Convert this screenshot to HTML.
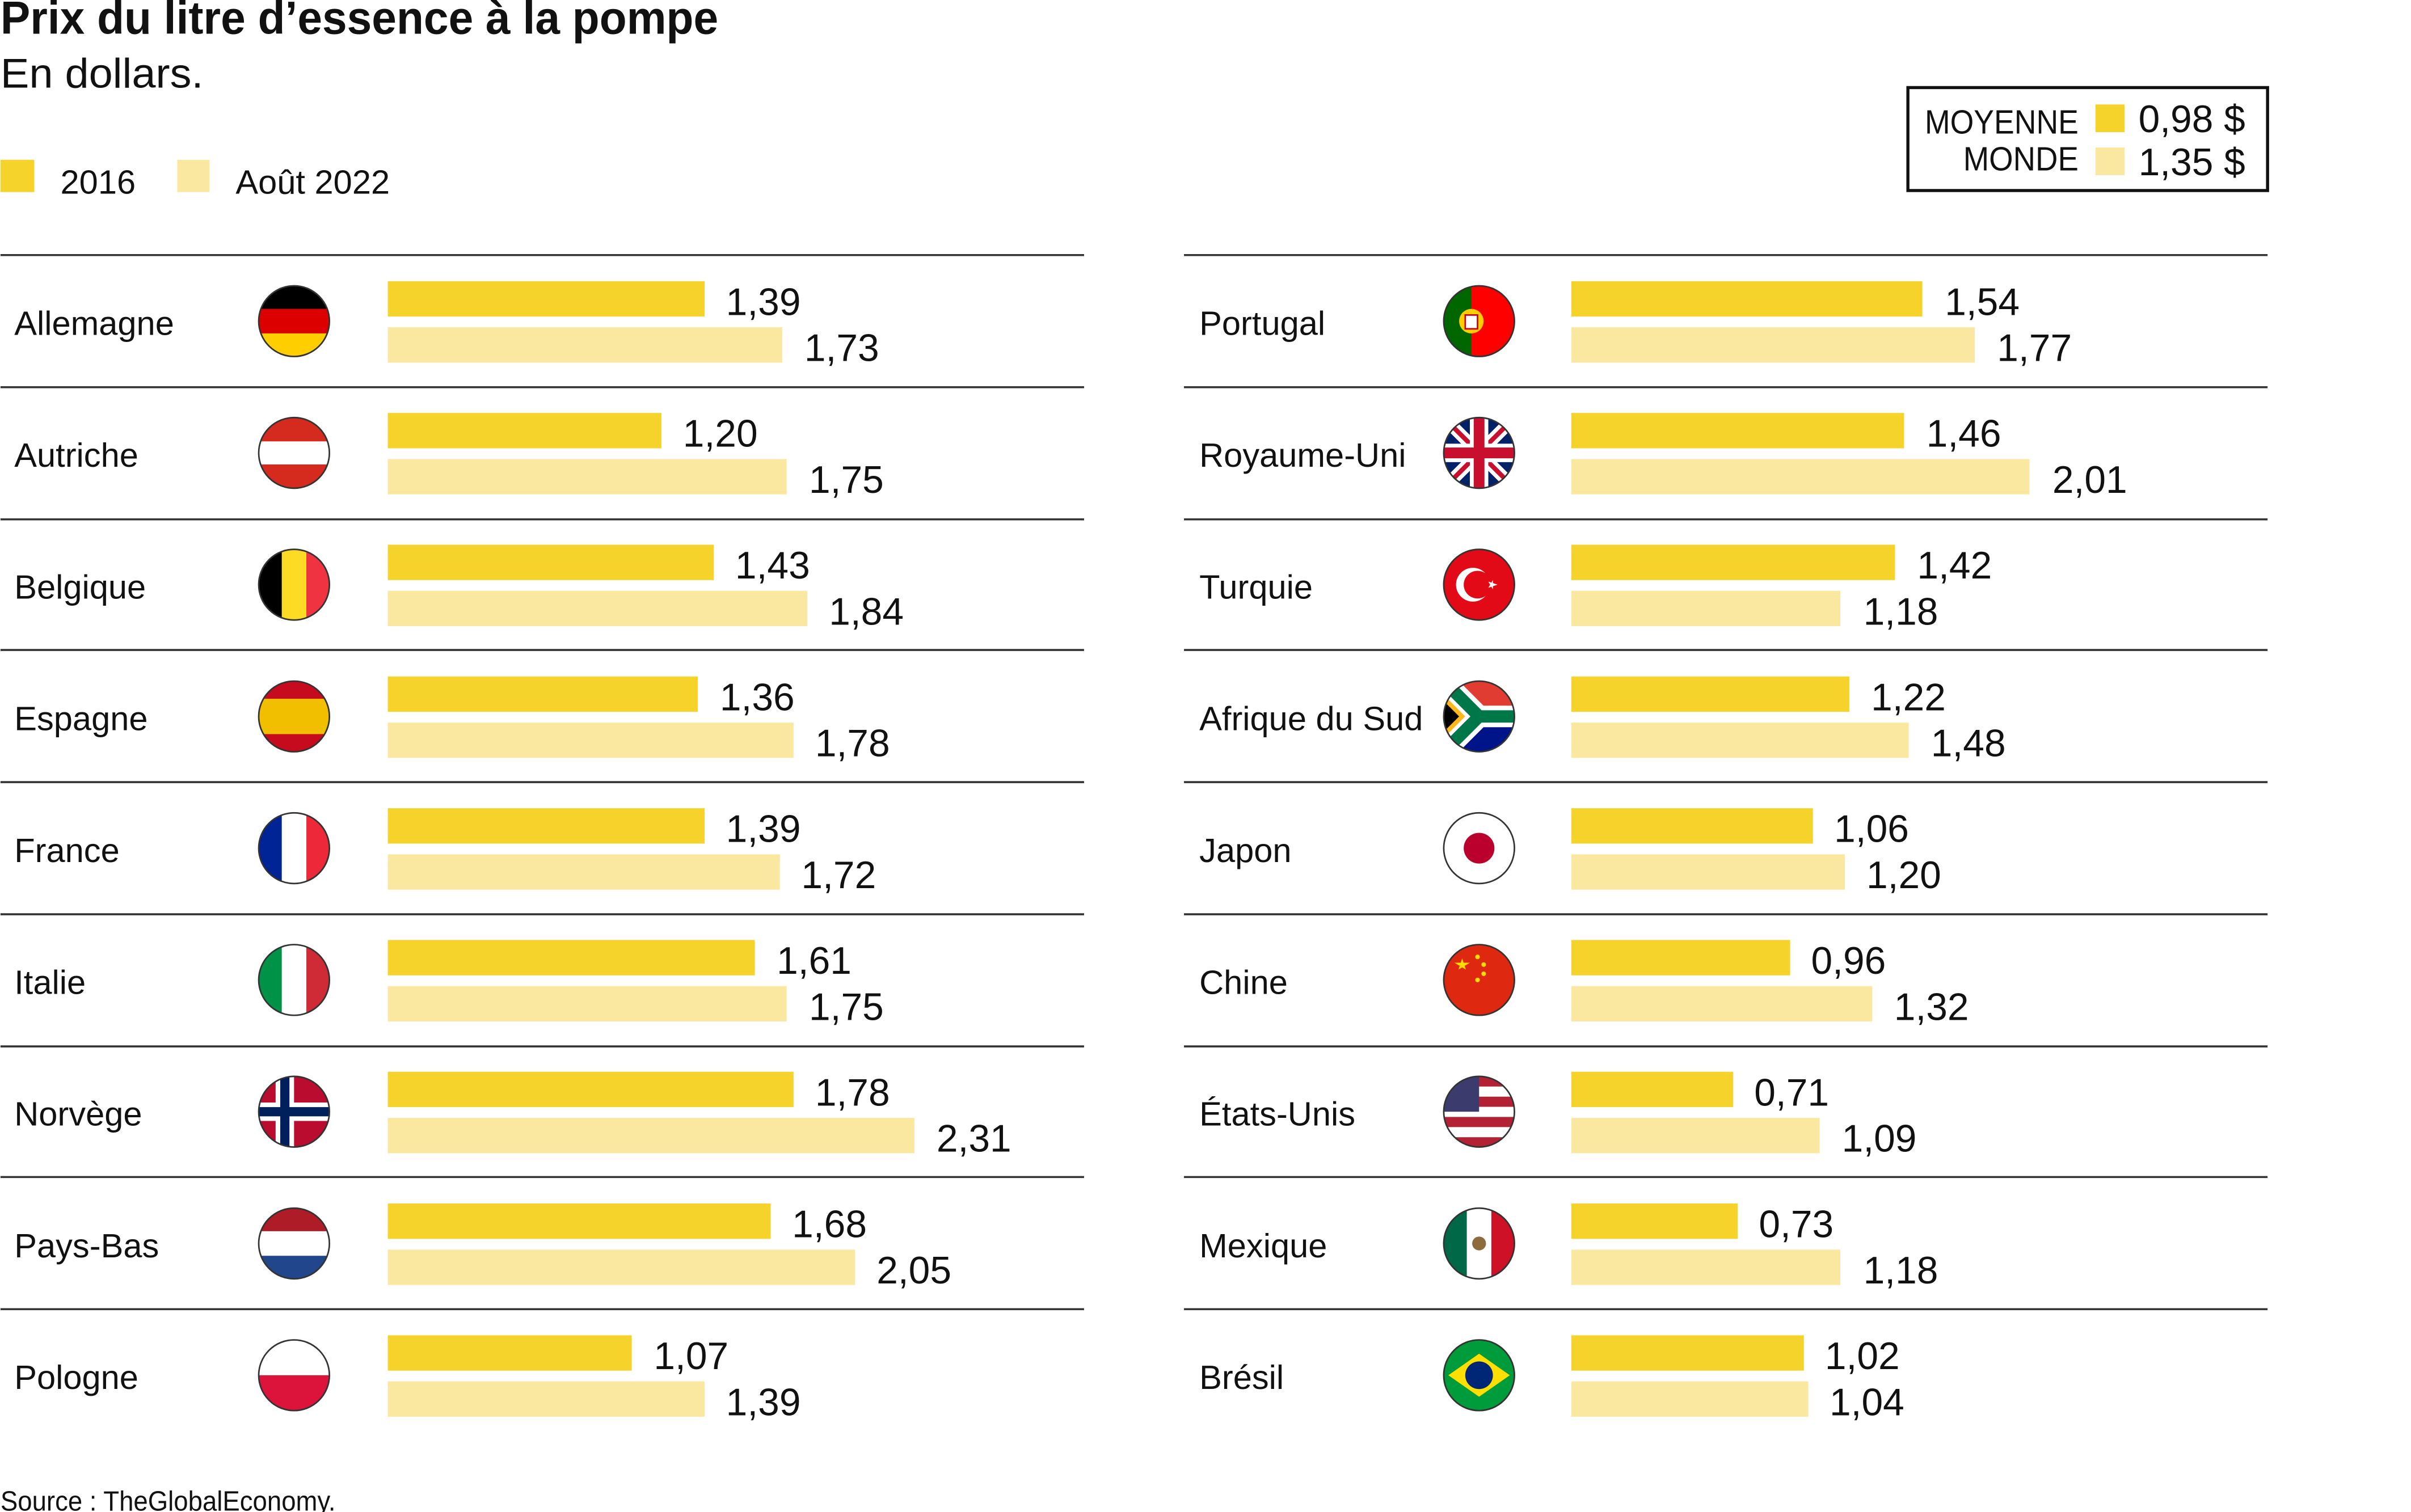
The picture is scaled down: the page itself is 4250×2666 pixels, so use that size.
<!DOCTYPE html>
<html><head><meta charset="utf-8"><style>
html,body{margin:0;padding:0;background:#fff}
svg{display:block}
text{font-family:"Liberation Sans",sans-serif;fill:#111}
.n{font-size:22px}
.v{font-size:25px}
.b1{fill:#f5d32b}.b2{fill:#fbe8a0}
</style></head><body>
<svg width="4250" height="2666" viewBox="0 0 1568 984" xmlns="http://www.w3.org/2000/svg">
<defs><clipPath id="c"><circle cx="0" cy="0" r="23"/></clipPath></defs>
<text x="0" y="22" textLength="467" lengthAdjust="spacingAndGlyphs" style="font-size:30px;font-weight:bold">Prix du litre d’essence à la pompe</text>
<text x="0" y="57" textLength="132" lengthAdjust="spacingAndGlyphs" style="font-size:27px">En dollars.</text>
<rect x="0" y="104" width="22" height="21" class="b1"/><text x="39" y="126" style="font-size:22px">2016</text>
<rect x="115" y="104" width="21" height="21" class="b2"/><text x="153" y="126" style="font-size:22px">Août 2022</text>
<rect x="1241" y="57" width="234" height="67" fill="none" stroke="#111" stroke-width="2"/>
<text x="1352" y="87" text-anchor="end" textLength="100" lengthAdjust="spacingAndGlyphs" style="font-size:22px">MOYENNE</text>
<text x="1352" y="111" text-anchor="end" textLength="75" lengthAdjust="spacingAndGlyphs" style="font-size:22px">MONDE</text>
<rect x="1363" y="68" width="19" height="18" class="b1"/><rect x="1363" y="96" width="19" height="18" class="b2"/>
<text x="1391" y="86" style="font-size:25px">0,98 $</text><text x="1391" y="114" style="font-size:25px">1,35 $</text>
<g stroke="#333" stroke-width="1.3">
<line x1="0" y1="166" x2="705" y2="166"/><line x1="770" y1="166" x2="1475" y2="166"/>
<line x1="0" y1="252" x2="705" y2="252"/><line x1="770" y1="252" x2="1475" y2="252"/>
<line x1="0" y1="338" x2="705" y2="338"/><line x1="770" y1="338" x2="1475" y2="338"/>
<line x1="0" y1="423" x2="705" y2="423"/><line x1="770" y1="423" x2="1475" y2="423"/>
<line x1="0" y1="509" x2="705" y2="509"/><line x1="770" y1="509" x2="1475" y2="509"/>
<line x1="0" y1="595" x2="705" y2="595"/><line x1="770" y1="595" x2="1475" y2="595"/>
<line x1="0" y1="681" x2="705" y2="681"/><line x1="770" y1="681" x2="1475" y2="681"/>
<line x1="0" y1="766" x2="705" y2="766"/><line x1="770" y1="766" x2="1475" y2="766"/>
<line x1="0" y1="852" x2="705" y2="852"/><line x1="770" y1="852" x2="1475" y2="852"/>
</g>

<!-- LEFT -->
<g transform="translate(0,166)"><text class="n" x="9" y="52">Allemagne</text>
<g transform="translate(191,43)"><g clip-path="url(#c)"><rect x="-23" y="-23" width="46" height="16" fill="#000"/><rect x="-23" y="-8" width="46" height="16" fill="#dd0000"/><rect x="-23" y="8" width="46" height="16" fill="#ffce00"/></g><circle r="23" fill="none" stroke="#333"/></g>
<rect x="252" y="17" width="206.1" height="23" class="b1"/><rect x="252" y="47" width="256.6" height="23" class="b2"/>
<text class="v" x="472" y="39">1,39</text><text class="v" x="523" y="69">1,73</text></g>

<g transform="translate(0,251.75)"><text class="n" x="9" y="52">Autriche</text>
<g transform="translate(191,43)"><g clip-path="url(#c)"><rect x="-23" y="-23" width="46" height="46" fill="#d52b1e"/><rect x="-23" y="-7.5" width="46" height="15" fill="#fff"/></g><circle r="23" fill="none" stroke="#333"/></g>
<rect x="252" y="17" width="178" height="23" class="b1"/><rect x="252" y="47" width="259.5" height="23" class="b2"/>
<text class="v" x="444" y="39">1,20</text><text class="v" x="526" y="69">1,75</text></g>

<g transform="translate(0,337.5)"><text class="n" x="9" y="52">Belgique</text>
<g transform="translate(191,43)"><g clip-path="url(#c)"><rect x="-23" y="-23" width="16" height="46" fill="#000"/><rect x="-8" y="-23" width="16" height="46" fill="#fdda24"/><rect x="8" y="-23" width="16" height="46" fill="#ef3340"/></g><circle r="23" fill="none" stroke="#333"/></g>
<rect x="252" y="17" width="212.1" height="23" class="b1"/><rect x="252" y="47" width="272.9" height="23" class="b2"/>
<text class="v" x="478" y="39">1,43</text><text class="v" x="539" y="69">1,84</text></g>

<g transform="translate(0,423.25)"><text class="n" x="9" y="52">Espagne</text>
<g transform="translate(191,43)"><g clip-path="url(#c)"><rect x="-23" y="-23" width="46" height="46" fill="#c60b1e"/><rect x="-23" y="-11.5" width="46" height="23" fill="#f1bf00"/></g><circle r="23" fill="none" stroke="#333"/></g>
<rect x="252" y="17" width="201.7" height="23" class="b1"/><rect x="252" y="47" width="264" height="23" class="b2"/>
<text class="v" x="468" y="39">1,36</text><text class="v" x="530" y="69">1,78</text></g>

<g transform="translate(0,509)"><text class="n" x="9" y="52">France</text>
<g transform="translate(191,43)"><g clip-path="url(#c)"><rect x="-23" y="-23" width="16" height="46" fill="#002395"/><rect x="-8" y="-23" width="16" height="46" fill="#fff"/><rect x="8" y="-23" width="16" height="46" fill="#ed2939"/></g><circle r="23" fill="none" stroke="#333"/></g>
<rect x="252" y="17" width="206.1" height="23" class="b1"/><rect x="252" y="47" width="255.1" height="23" class="b2"/>
<text class="v" x="472" y="39">1,39</text><text class="v" x="521" y="69">1,72</text></g>

<g transform="translate(0,594.75)"><text class="n" x="9" y="52">Italie</text>
<g transform="translate(191,43)"><g clip-path="url(#c)"><rect x="-23" y="-23" width="16" height="46" fill="#009246"/><rect x="-8" y="-23" width="16" height="46" fill="#fff"/><rect x="8" y="-23" width="16" height="46" fill="#ce2b37"/></g><circle r="23" fill="none" stroke="#333"/></g>
<rect x="252" y="17" width="238.8" height="23" class="b1"/><rect x="252" y="47" width="259.5" height="23" class="b2"/>
<text class="v" x="505" y="39">1,61</text><text class="v" x="526" y="69">1,75</text></g>

<g transform="translate(0,680.5)"><text class="n" x="9" y="52">Norvège</text>
<g transform="translate(191,43)"><g clip-path="url(#c)"><rect x="-23" y="-23" width="46" height="46" fill="#ba0c2f"/><rect x="-12" y="-23" width="12" height="46" fill="#fff"/><rect x="-23" y="-6" width="46" height="12" fill="#fff"/><rect x="-9" y="-23" width="6" height="46" fill="#00205b"/><rect x="-23" y="-3" width="46" height="6" fill="#00205b"/></g><circle r="23" fill="none" stroke="#333"/></g>
<rect x="252" y="17" width="264" height="23" class="b1"/><rect x="252" y="47" width="342.6" height="23" class="b2"/>
<text class="v" x="530" y="39">1,78</text><text class="v" x="609" y="69">2,31</text></g>

<g transform="translate(0,766.25)"><text class="n" x="9" y="52">Pays-Bas</text>
<g transform="translate(191,43)"><g clip-path="url(#c)"><rect x="-23" y="-23" width="46" height="16" fill="#ae1c28"/><rect x="-23" y="-8" width="46" height="16" fill="#fff"/><rect x="-23" y="8" width="46" height="16" fill="#21468b"/></g><circle r="23" fill="none" stroke="#333"/></g>
<rect x="252" y="17" width="249.1" height="23" class="b1"/><rect x="252" y="47" width="304" height="23" class="b2"/>
<text class="v" x="515" y="39">1,68</text><text class="v" x="570" y="69">2,05</text></g>

<g transform="translate(0,852)"><text class="n" x="9" y="52">Pologne</text>
<g transform="translate(191,43)"><g clip-path="url(#c)"><rect x="-23" y="-23" width="46" height="23" fill="#fff"/><rect x="-23" y="0" width="46" height="23" fill="#dc143c"/></g><circle r="23" fill="none" stroke="#333"/></g>
<rect x="252" y="17" width="158.7" height="23" class="b1"/><rect x="252" y="47" width="206.1" height="23" class="b2"/>
<text class="v" x="425" y="39">1,07</text><text class="v" x="472" y="69">1,39</text></g>

<!-- RIGHT -->
<g transform="translate(770,166)"><text class="n" x="10" y="52">Portugal</text>
<g transform="translate(192,43)"><g clip-path="url(#c)"><rect x="-23" y="-23" width="46" height="46" fill="#ff0000"/><rect x="-23" y="-23" width="18" height="46" fill="#006600"/><circle cx="-5" cy="0" r="8" fill="#ffcc00"/><rect x="-9" y="-4" width="8" height="9" fill="#fff" stroke="#c00"/></g><circle r="23" fill="none" stroke="#333"/></g>
<rect x="252" y="17" width="228.4" height="23" class="b1"/><rect x="252" y="47" width="262.5" height="23" class="b2"/>
<text class="v" x="495" y="39">1,54</text><text class="v" x="529" y="69">1,77</text></g>

<g transform="translate(770,251.75)"><text class="n" x="10" y="52">Royaume-Uni</text>
<g transform="translate(192,43)"><g clip-path="url(#c)"><rect x="-23" y="-23" width="46" height="46" fill="#012169"/><path d="M-23,-23L23,23M23,-23L-23,23" stroke="#fff" stroke-width="8"/><path d="M-23,-23L23,23M23,-23L-23,23" stroke="#c8102e" stroke-width="3"/><rect x="-6" y="-23" width="12" height="46" fill="#fff"/><rect x="-23" y="-6" width="46" height="12" fill="#fff"/><rect x="-3.5" y="-23" width="7" height="46" fill="#c8102e"/><rect x="-23" y="-3.5" width="46" height="7" fill="#c8102e"/></g><circle r="23" fill="none" stroke="#333"/></g>
<rect x="252" y="17" width="216.5" height="23" class="b1"/><rect x="252" y="47" width="298.1" height="23" class="b2"/>
<text class="v" x="483" y="39">1,46</text><text class="v" x="565" y="69">2,01</text></g>

<g transform="translate(770,337.5)"><text class="n" x="10" y="52">Turquie</text>
<g transform="translate(192,43)"><g clip-path="url(#c)"><rect x="-23" y="-23" width="46" height="46" fill="#e30a17"/><circle cx="-4" cy="0" r="11" fill="#fff"/><circle cx="-1" cy="0" r="9" fill="#e30a17"/><polygon points="12,0 6,2 9,-3 9,3 6,-2" fill="#fff"/></g><circle r="23" fill="none" stroke="#333"/></g>
<rect x="252" y="17" width="210.6" height="23" class="b1"/><rect x="252" y="47" width="175" height="23" class="b2"/>
<text class="v" x="477" y="39">1,42</text><text class="v" x="442" y="69">1,18</text></g>

<g transform="translate(770,423.25)"><text class="n" x="10" y="52">Afrique du Sud</text>
<g transform="translate(192,43)"><g clip-path="url(#c)"><rect x="-23" y="-23" width="46" height="23" fill="#e03c31"/><rect x="-23" y="0" width="46" height="23" fill="#001489"/><path d="M-23,-23L0,0L23,0M-23,23L0,0" stroke="#fff" stroke-width="14" fill="none"/><path d="M-23,-23L0,0L23,0M-23,23L0,0" stroke="#007749" stroke-width="8" fill="none"/><polygon points="-23,-14 -9,0 -23,14" fill="#ffb81c"/><polygon points="-23,-10 -13,0 -23,10" fill="#000"/></g><circle r="23" fill="none" stroke="#333"/></g>
<rect x="252" y="17" width="180.9" height="23" class="b1"/><rect x="252" y="47" width="219.5" height="23" class="b2"/>
<text class="v" x="447" y="39">1,22</text><text class="v" x="486" y="69">1,48</text></g>

<g transform="translate(770,509)"><text class="n" x="10" y="52">Japon</text>
<g transform="translate(192,43)"><circle r="23" fill="#fff" stroke="#333"/><circle r="10" fill="#bc002d"/></g>
<rect x="252" y="17" width="157.2" height="23" class="b1"/><rect x="252" y="47" width="178" height="23" class="b2"/>
<text class="v" x="423" y="39">1,06</text><text class="v" x="444" y="69">1,20</text></g>

<g transform="translate(770,594.75)"><text class="n" x="10" y="52">Chine</text>
<g transform="translate(192,43)"><g clip-path="url(#c)"><rect x="-23" y="-23" width="46" height="46" fill="#de2910"/><polygon points="-11,-14 -8.6,-6.8 -16,-11.2 -6,-11.2 -13.4,-6.8" fill="#ffde00"/><circle cx="-1" cy="-15" r="1.5" fill="#ffde00"/><circle cx="3" cy="-10" r="1.5" fill="#ffde00"/><circle cx="3" cy="-4" r="1.5" fill="#ffde00"/><circle cx="-1" cy="0" r="1.5" fill="#ffde00"/></g><circle r="23" fill="none" stroke="#333"/></g>
<rect x="252" y="17" width="142.4" height="23" class="b1"/><rect x="252" y="47" width="195.8" height="23" class="b2"/>
<text class="v" x="408" y="39">0,96</text><text class="v" x="462" y="69">1,32</text></g>

<g transform="translate(770,680.5)"><text class="n" x="10" y="52">États-Unis</text>
<g transform="translate(192,43)"><g clip-path="url(#c)"><rect x="-23" y="-23" width="46" height="46" fill="#fff"/><rect x="-23" y="-23" width="46" height="6.6" fill="#b22234"/><rect x="-23" y="-9.8" width="46" height="6.6" fill="#b22234"/><rect x="-23" y="3.4" width="46" height="6.6" fill="#b22234"/><rect x="-23" y="16.6" width="46" height="6.6" fill="#b22234"/><rect x="-23" y="-23" width="23" height="23" fill="#3c3b6e"/></g><circle r="23" fill="none" stroke="#333"/></g>
<rect x="252" y="17" width="105.3" height="23" class="b1"/><rect x="252" y="47" width="161.6" height="23" class="b2"/>
<text class="v" x="371" y="39">0,71</text><text class="v" x="428" y="69">1,09</text></g>

<g transform="translate(770,766.25)"><text class="n" x="10" y="52">Mexique</text>
<g transform="translate(192,43)"><g clip-path="url(#c)"><rect x="-23" y="-23" width="16" height="46" fill="#006847"/><rect x="-8" y="-23" width="16" height="46" fill="#fff"/><rect x="8" y="-23" width="16" height="46" fill="#ce1126"/><circle r="4.5" fill="#8c6b3c"/></g><circle r="23" fill="none" stroke="#333"/></g>
<rect x="252" y="17" width="108.3" height="23" class="b1"/><rect x="252" y="47" width="175" height="23" class="b2"/>
<text class="v" x="374" y="39">0,73</text><text class="v" x="442" y="69">1,18</text></g>

<g transform="translate(770,852)"><text class="n" x="10" y="52">Brésil</text>
<g transform="translate(192,43)"><g clip-path="url(#c)"><rect x="-23" y="-23" width="46" height="46" fill="#009c3b"/><polygon points="-20,0 0,-14 20,0 0,14" fill="#ffdf00"/><circle r="9" fill="#002776"/></g><circle r="23" fill="none" stroke="#333"/></g>
<rect x="252" y="17" width="151.3" height="23" class="b1"/><rect x="252" y="47" width="154.2" height="23" class="b2"/>
<text class="v" x="417" y="39">1,02</text><text class="v" x="420" y="69">1,04</text></g>

<text x="0" y="983" textLength="218" lengthAdjust="spacingAndGlyphs" style="font-size:18px">Source : TheGlobalEconomy.</text>
</svg>
</body></html>
